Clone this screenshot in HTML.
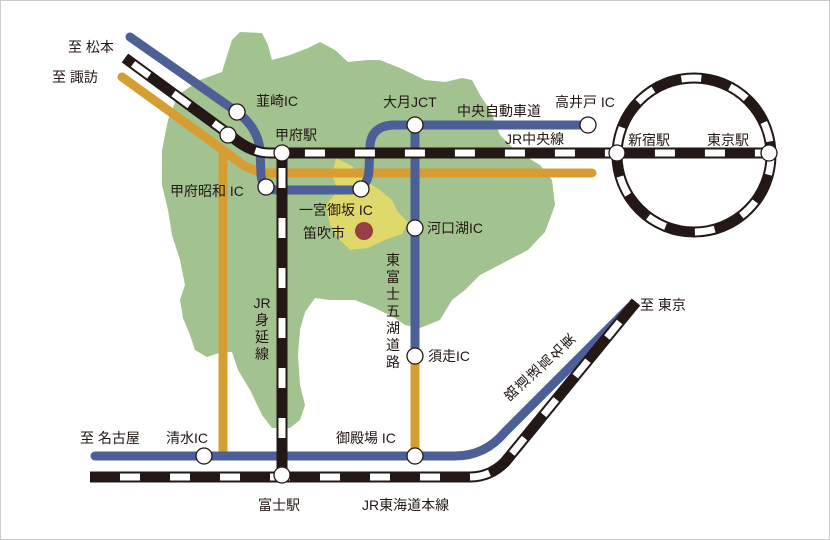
<!DOCTYPE html>
<html><head><meta charset="utf-8"><style>
html,body{margin:0;padding:0;background:#fff}
svg{display:block}
text{font-family:"Liberation Sans","Noto Sans CJK JP",sans-serif;font-size:14px;fill:#231815}
</style></head><body>
<svg width="830" height="540" viewBox="0 0 830 540">
<rect x="0.5" y="0.5" width="829" height="539" fill="#fff" stroke="#ccc"/>
<path d="M162,150 L168,120 L178,95 L200,80 L222,72 L232,40 L240,32 L262,33 L268,45 L272,60 L290,55 L308,48 L320,42 L335,50 L348,62 L368,60 L380,60 L400,68 L425,80 L445,82 L462,78 L472,80 L480,95 L490,110 L500,135 L515,150 L540,165 L552,180 L555,205 L545,232 L528,250 L505,262 L480,275 L465,290 L452,300 L440,320 L420,328 L405,325 L395,318 L375,308 L355,300 L330,300 L315,298 L305,312 L300,330 L298,355 L300,385 L305,405 L300,420 L290,428 L272,428 L262,415 L250,390 L238,370 L232,352 L222,352 L207,357 L195,350 L190,335 L183,318 L180,300 L185,285 L180,260 L172,235 L168,210 L162,185 Z" fill="#a2c28f"/>
<path d="M336,158 L352,166 L365,180 L380,190 L392,200 L398,212 L408,222 L402,234 L385,240 L368,248 L350,250 L340,240 L330,225 L326,205 L338,190 L332,175 Z" fill="#dfd86a"/>
<g stroke="#d79d32" stroke-width="9" fill="none" stroke-linecap="round">
<path d="M122,77 L230,155 Q250,173 270,173 L592,173"/>
<path d="M223,150 L223,455" stroke-linecap="butt"/>
<path d="M415,355 L415,455" stroke-linecap="butt"/>
</g>
<g stroke="#4c5f97" stroke-width="9" fill="none" stroke-linecap="round" stroke-linejoin="round">
<path d="M130,37 L237,112 Q258,128 260,150 L261,175 Q262,190 278,190 L350,190 Q368,190 369,170 L370,145 Q372,125 395,125 L588,125"/>
<path d="M415,125 L415,355"/>
<path d="M95,456 L455,456 Q485,456 505,432 L630,307"/>
</g>
<g fill="none">
<g stroke="#231815" stroke-width="11">
<path d="M125,58 L230,135 Q250,153 270,153 L772,153"/>
<path d="M282,153 L282,478"/>
<path d="M90,477 L470,477 Q490,477 505,462 L636,302"/>
<circle cx="694" cy="155" r="77"/>
</g>
<g stroke="#fff" stroke-width="7" stroke-dasharray="20 30">
<path d="M125,58 L230,135 Q250,153 270,153 L772,153" stroke-dashoffset="-10"/>
<path d="M282,153 L282,478" stroke-dashoffset="-15"/>
<path d="M90,477 L470,477 Q490,477 505,462 L636,302" stroke-dashoffset="-30"/>
<circle cx="694" cy="155" r="77"/>
</g>
</g>
<g fill="#fff" stroke="#231815" stroke-width="1.3">
<circle cx="237" cy="112" r="8"/><circle cx="228" cy="135" r="8"/>
<circle cx="282" cy="153" r="8"/><circle cx="266" cy="187" r="8"/>
<circle cx="361" cy="189" r="8"/><circle cx="415" cy="125" r="8"/>
<circle cx="588" cy="125" r="8"/><circle cx="617" cy="153" r="8"/>
<circle cx="769" cy="153" r="8"/><circle cx="415" cy="228" r="8"/>
<circle cx="415" cy="356" r="8"/><circle cx="204" cy="456" r="8"/>
<circle cx="415" cy="456" r="8"/><circle cx="282" cy="475" r="8"/>
</g>
<circle cx="364" cy="231" r="9" fill="#973d45"/>
<text x="68" y="52">至 松本</text>
<text x="52" y="82">至 諏訪</text>
<text x="256" y="106">韮崎IC</text>
<text x="275" y="140">甲府駅</text>
<text x="170" y="196">甲府昭和 IC</text>
<text x="299" y="215">一宮御坂 IC</text>
<text x="303" y="238">笛吹市</text>
<text x="383" y="107">大月JCT</text>
<text x="457" y="116">中央自動車道</text>
<text x="555" y="107">高井戸 IC</text>
<text x="505" y="144">JR中央線</text>
<text x="628" y="145">新宿駅</text>
<text x="707" y="145">東京駅</text>
<text x="427" y="233">河口湖IC</text>
<text x="428" y="361">須走IC</text>
<g text-anchor="middle">
<text x="393" y="265">東</text><text x="393" y="282">富</text><text x="393" y="299">士</text>
<text x="393" y="316">五</text><text x="393" y="333">湖</text><text x="393" y="350">道</text><text x="393" y="367">路</text>
<text x="262" y="308">JR</text><text x="262" y="325">身</text><text x="262" y="342">延</text><text x="262" y="359">線</text>
</g>
<text x="80" y="443">至 名古屋</text>
<text x="166" y="443">清水IC</text>
<text x="336" y="443">御殿場 IC</text>
<text x="258" y="510">富士駅</text>
<text x="362" y="510">JR東海道本線</text>
<text x="640" y="310">至 東京</text>
<g text-anchor="middle" font-size="13">
<text transform="translate(568,341) rotate(-135)" y="5">東</text>
<text transform="translate(556.6,351.4) rotate(-135)" y="5">名</text>
<text transform="translate(545.2,361.8) rotate(-135)" y="5">高</text>
<text transform="translate(533.8,372.2) rotate(-135)" y="5">速</text>
<text transform="translate(522.4,382.6) rotate(-135)" y="5">道</text>
<text transform="translate(511,393) rotate(-135)" y="5">路</text>
</g>
</svg>
</body></html>
